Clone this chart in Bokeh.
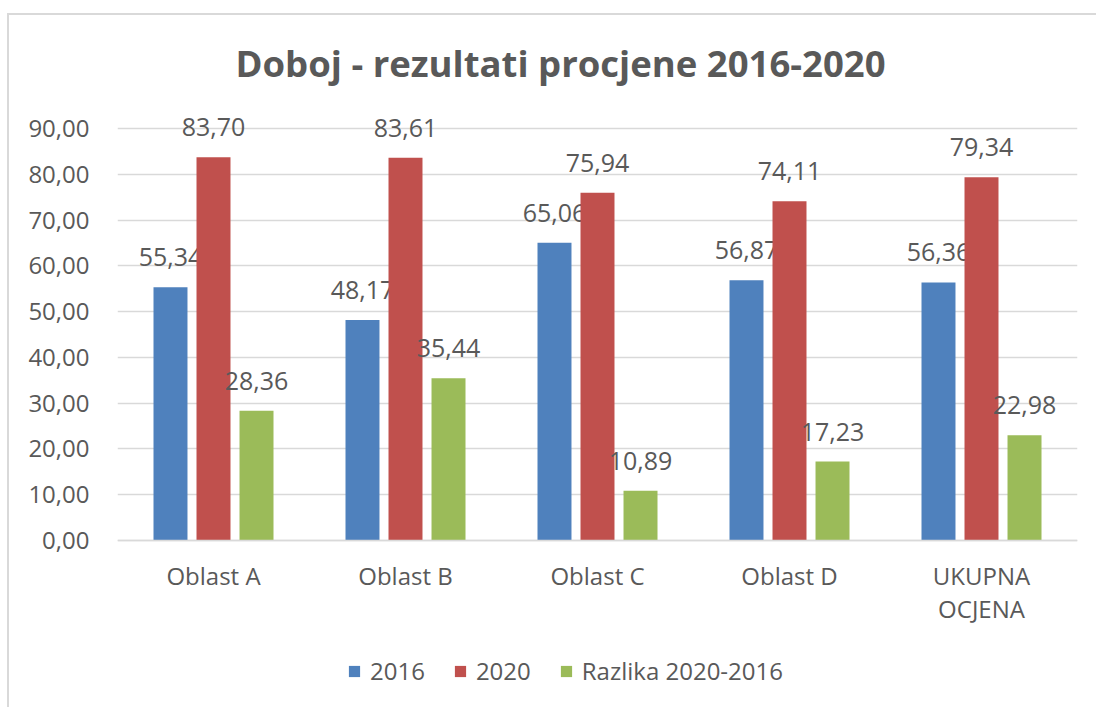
from bokeh.plotting import figure
from bokeh.models import ColumnDataSource, Legend, LegendItem, FactorRange, Range1d, FixedTicker, Title
from bokeh.transform import dodge
from bokeh.core.properties import value
from bokeh.embed import file_html
from bokeh.resources import INLINE

# ---- data ----
categories = ["Oblast A", "Oblast B", "Oblast C", "Oblast D", "UKUPNA\nOCJENA"]
v2016 = [55.34, 48.17, 65.06, 56.87, 56.36]
v2020 = [83.70, 83.61, 75.94, 74.11, 79.34]
razlika = [28.36, 35.44, 10.89, 17.23, 22.98]
series_names = ["2016", "2020", "Razlika 2020-2016"]
colors = ["#4F81BD", "#C0504D", "#9BBB59"]
y_ticks = [0, 10, 20, 30, 40, 50, 60, 70, 80, 90]
y_tick_labels = ["0,00", "10,00", "20,00", "30,00", "40,00", "50,00", "60,00", "70,00", "80,00", "90,00"]
title_text = "Doboj - rezultati procjene 2016-2020"

TEXT = "#595959"
FONT = "Open Sans"


def fmt(v):
    return f"{v:.2f}".replace(".", ",")


source = ColumnDataSource(dict(
    cat=categories,
    v2016=v2016, v2020=v2020, razlika=razlika,
    l2016=[fmt(v) for v in v2016],
    l2020=[fmt(v) for v in v2020],
    lraz=[fmt(v) for v in razlika],
))

# The frame spans from a little above the 90 line down to the page bottom,
# so the category labels (axis fixed at y=0) and the legend sit inside it.
PX_PER_UNIT = 412 / 90
FRAME_H = 607
Y_TOP = 90 + 28 / PX_PER_UNIT
Y_BOTTOM = -(167 / PX_PER_UNIT)

p = figure(
    x_range=FactorRange(*categories),
    y_range=Range1d(Y_BOTTOM, Y_TOP),
    frame_width=960, frame_height=FRAME_H,
    min_border_left=108, min_border_right=19,
    min_border_top=85, min_border_bottom=0,
    output_backend="svg", toolbar_location=None,
    background_fill_color="white", border_fill_color="white",
)
p.styles = {
    "margin-left": "7px", "margin-top": "13px",
    "border-left": "2px solid #d9d9d9", "border-top": "2px solid #d9d9d9",
}
p.outline_line_color = None

title = Title(text=title_text, align="left", offset=118, standoff=26,
              text_font=FONT, text_font_size="36.5px", text_font_style="bold",
              text_color=TEXT)
p.add_layout(title, "above")

# axes
p.yaxis.ticker = FixedTicker(ticks=y_ticks)
p.yaxis.major_label_overrides = {t: l for t, l in zip(y_ticks, y_tick_labels)}
p.yaxis.axis_line_color = None
p.yaxis.major_tick_line_color = None
p.yaxis.minor_tick_line_color = None
p.yaxis.major_label_standoff = 22
p.yaxis.major_label_text_font = FONT
p.yaxis.major_label_text_font_size = "24px"
p.yaxis.major_label_text_color = TEXT

p.xaxis.fixed_location = 0
p.xaxis.axis_line_color = "#d9d9d9"
p.xaxis.axis_line_width = 1.5
p.xaxis.major_tick_line_color = None
p.xaxis.minor_tick_line_color = None
p.xaxis.major_label_standoff = 12
p.xaxis.major_label_text_font = FONT
p.xaxis.major_label_text_font_size = "24px"
p.xaxis.major_label_text_line_height = 1.01
p.xaxis.major_label_text_color = TEXT

p.xgrid.grid_line_color = None
p.ygrid.grid_line_color = "#d9d9d9"
p.ygrid.grid_line_width = 1.5
p.ygrid.ticker = FixedTicker(ticks=y_ticks)

offsets = [-0.224, 0.0, 0.224]
fields = ["v2016", "v2020", "razlika"]
lfields = ["l2016", "l2020", "lraz"]
items = []
for name, col, off, f, lf in zip(series_names, colors, offsets, fields, lfields):
    r = p.vbar(x=dodge("cat", off, range=p.x_range), top=f, width=0.177,
               source=source, fill_color=col, line_color=None)
    p.text(x=dodge("cat", off, range=p.x_range), y=f, text=lf, source=source,
           text_align="center", text_baseline="alphabetic", y_offset=-30,
           text_font=value(FONT), text_font_size="25px", text_color=TEXT)
    items.append(LegendItem(label=name, renderers=[r]))

legend = Legend(items=items, orientation="horizontal", location=(230, 20),
                border_line_color=None, background_fill_alpha=0,
                label_text_font=FONT, label_text_font_size="24px",
                label_text_color=TEXT, glyph_width=14, glyph_height=14,
                label_standoff=9, spacing=28, padding=0, margin=0)
p.add_layout(legend)

open("out.html", "w").write(file_html(p, INLINE))
